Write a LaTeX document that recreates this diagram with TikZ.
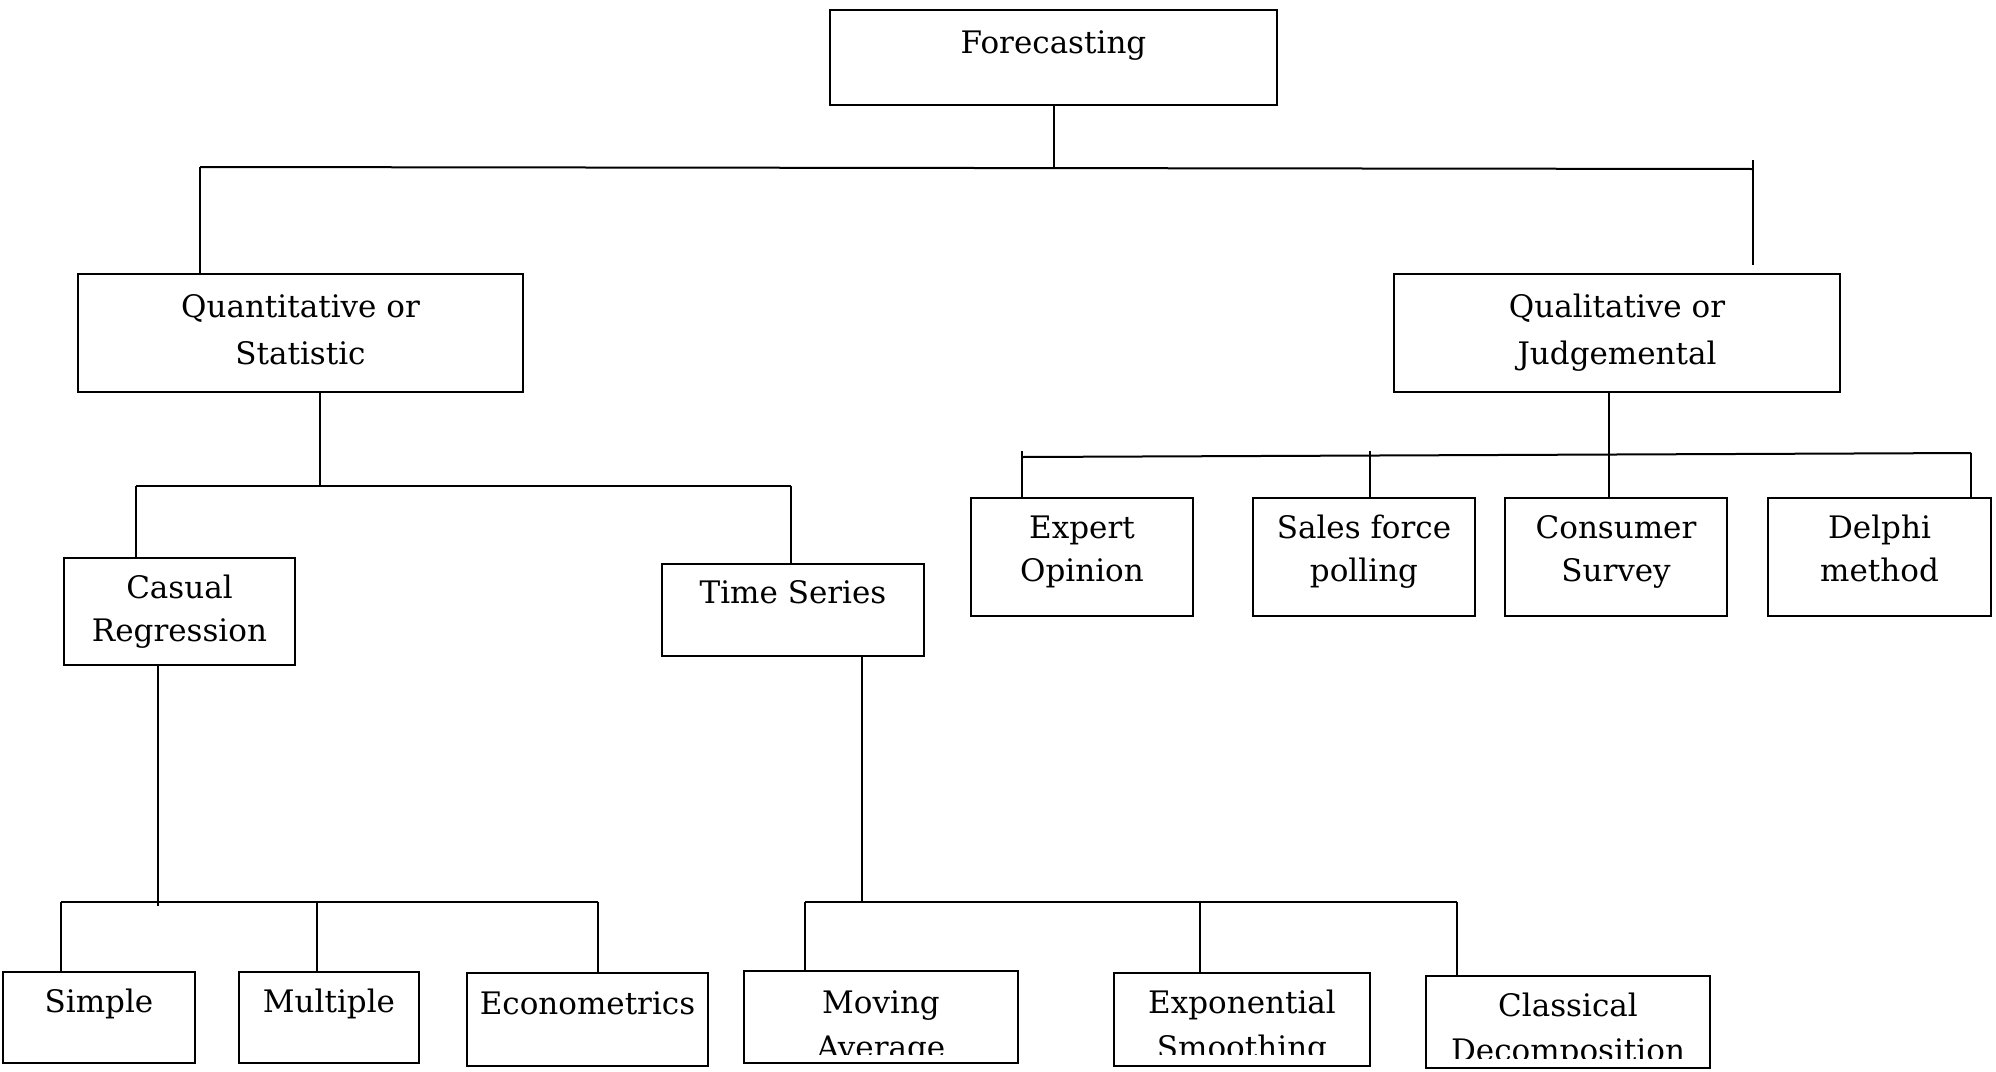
\documentclass[tikz,border=0pt]{standalone}
\usepackage{fontspec}
\setmainfont{DejaVu Serif}
\begin{document}
\begin{tikzpicture}[x=1pt,y=-1pt,
  box/.style={draw,line width=2.2pt,inner sep=0pt},
  conn/.style={line width=2pt},
  txt/.style={anchor=base,inner sep=0pt,font=\fontsize{31}{47}\selectfont}]
\useasboundingbox (0,0) rectangle (1996,1071);
% boxes
\node[box,minimum width=447,minimum height=95] (fc) at (1053.5,57.5) {};
\node[box,minimum width=445,minimum height=118] (quant) at (300.5,333) {};
\node[box,minimum width=446,minimum height=118] (qual) at (1617,333) {};
\node[box,minimum width=231,minimum height=107] (casual) at (179.5,611.5) {};
\node[box,minimum width=262,minimum height=92] (ts) at (793,610) {};
\node[box,minimum width=222,minimum height=118] (expert) at (1082,557) {};
\node[box,minimum width=222,minimum height=118] (sales) at (1364,557) {};
\node[box,minimum width=222,minimum height=118] (consumer) at (1616,557) {};
\node[box,minimum width=223,minimum height=118] (delphi) at (1879.5,557) {};
\node[box,minimum width=192,minimum height=91] (simple) at (99,1017.5) {};
\node[box,minimum width=180,minimum height=91] (multiple) at (329,1017.5) {};
\node[box,minimum width=241,minimum height=93] (econ) at (587.5,1019.5) {};
\node[box,minimum width=274,minimum height=92] (moving) at (881,1017) {};
\node[box,minimum width=256,minimum height=93] (expo) at (1242,1019.5) {};
\node[box,minimum width=284,minimum height=92] (classical) at (1568,1022) {};
% texts
\node[txt] (tfc) at (1053.5,53) {Forecasting};
\node[txt] (tq1) at (300.5,317) {Quantitative or};
\node[txt] (tq2) at (300.5,364) {Statistic};
\node[txt] (tl1) at (1617,317) {Qualitative or};
\node[txt] (tl2) at (1617,364) {Judgemental};
\node[txt] (tc1) at (179.5,598) {Casual};
\node[txt] (tc2) at (179.5,641) {Regression};
\node[txt] (tts) at (793,603) {Time Series};
\node[txt] (te1) at (1082,538) {Expert};
\node[txt] (te2) at (1082,581) {Opinion};
\node[txt] (ts1) at (1364,538) {Sales force};
\node[txt] (ts2) at (1364,581) {polling};
\node[txt] (tu1) at (1616,538) {Consumer};
\node[txt] (tu2) at (1616,581) {Survey};
\node[txt] (td1) at (1879.5,538) {Delphi};
\node[txt] (td2) at (1879.5,581) {method};
\node[txt] (tsi) at (99,1012) {Simple};
\node[txt] (tmu) at (329,1012) {Multiple};
\node[txt] (tec) at (587.5,1014) {Econometrics};
\node[txt] (tm1) at (881,1013) {Moving};
\node[txt] (tx1) at (1242,1013) {Exponential};
\node[txt] (tk1) at (1568,1016) {Classical};
\begin{scope}
\clip (744,1025) rectangle (1018,1054);
\node[txt] (tm2) at (881,1058) {Average};
\end{scope}
\begin{scope}
\clip (1114,1025) rectangle (1370,1054);
\node[txt] (tx2) at (1242,1058) {Smoothing};
\end{scope}
\begin{scope}
\clip (1426,1025) rectangle (1710,1058);
\node[txt] (tk2) at (1568,1061) {Decomposition};
\end{scope}
% connectors: top level
\coordinate (barL) at (200,167);
\coordinate (barR) at (1753,169);
\coordinate (rtop) at (1753,160);
\coordinate (rbot) at (1753,265);
\draw[conn] (barL) -- (barR);
\draw[conn] (fc.south) -- (fc.south |- 0,168);
\draw[conn] (barL) -- (barL |- quant.north);
\draw[conn] (rtop) -- (rbot);
% quantitative
\coordinate (q2) at (320,486);
\coordinate (b2L) at (136,486);
\coordinate (b2R) at (791,486);
\draw[conn] (q2 |- quant.south) -- (q2);
\draw[conn] (b2L) -- (b2R);
\draw[conn] (b2L) -- (b2L |- casual.north);
\draw[conn] (b2R) -- (b2R |- ts.north);
% casual regression
\coordinate (c3) at (158,906);
\coordinate (b3L) at (61,902);
\coordinate (b3M) at (317,902);
\coordinate (b3R) at (598,902);
\draw[conn] (c3 |- casual.south) -- (c3);
\draw[conn] (b3L) -- (b3R);
\draw[conn] (b3L) -- (b3L |- simple.north);
\draw[conn] (b3M) -- (b3M |- multiple.north);
\draw[conn] (b3R) -- (b3R |- econ.north);
% time series
\coordinate (t3) at (862,902);
\coordinate (b4L) at (805,902);
\coordinate (b4M) at (1200,902);
\coordinate (b4R) at (1457,902);
\draw[conn] (t3 |- ts.south) -- (t3);
\draw[conn] (b4L) -- (b4R);
\draw[conn] (b4L) -- (b4L |- moving.north);
\draw[conn] (b4M) -- (b4M |- expo.north);
\draw[conn] (b4R) -- (b4R |- classical.north);
% qualitative
\coordinate (l5) at (1609,455);
\coordinate (b5L) at (1022,457);
\coordinate (b5R) at (1971,453);
\coordinate (e5) at (1022,451);
\coordinate (s5) at (1370,451);
\draw[conn] (l5 |- qual.south) -- (l5 |- consumer.north);
\draw[conn] (b5L) -- (b5R);
\draw[conn] (e5) -- (e5 |- expert.north);
\draw[conn] (s5) -- (s5 |- sales.north);
\draw[conn] (b5R) -- (b5R |- delphi.north);
\end{tikzpicture}
\end{document}
